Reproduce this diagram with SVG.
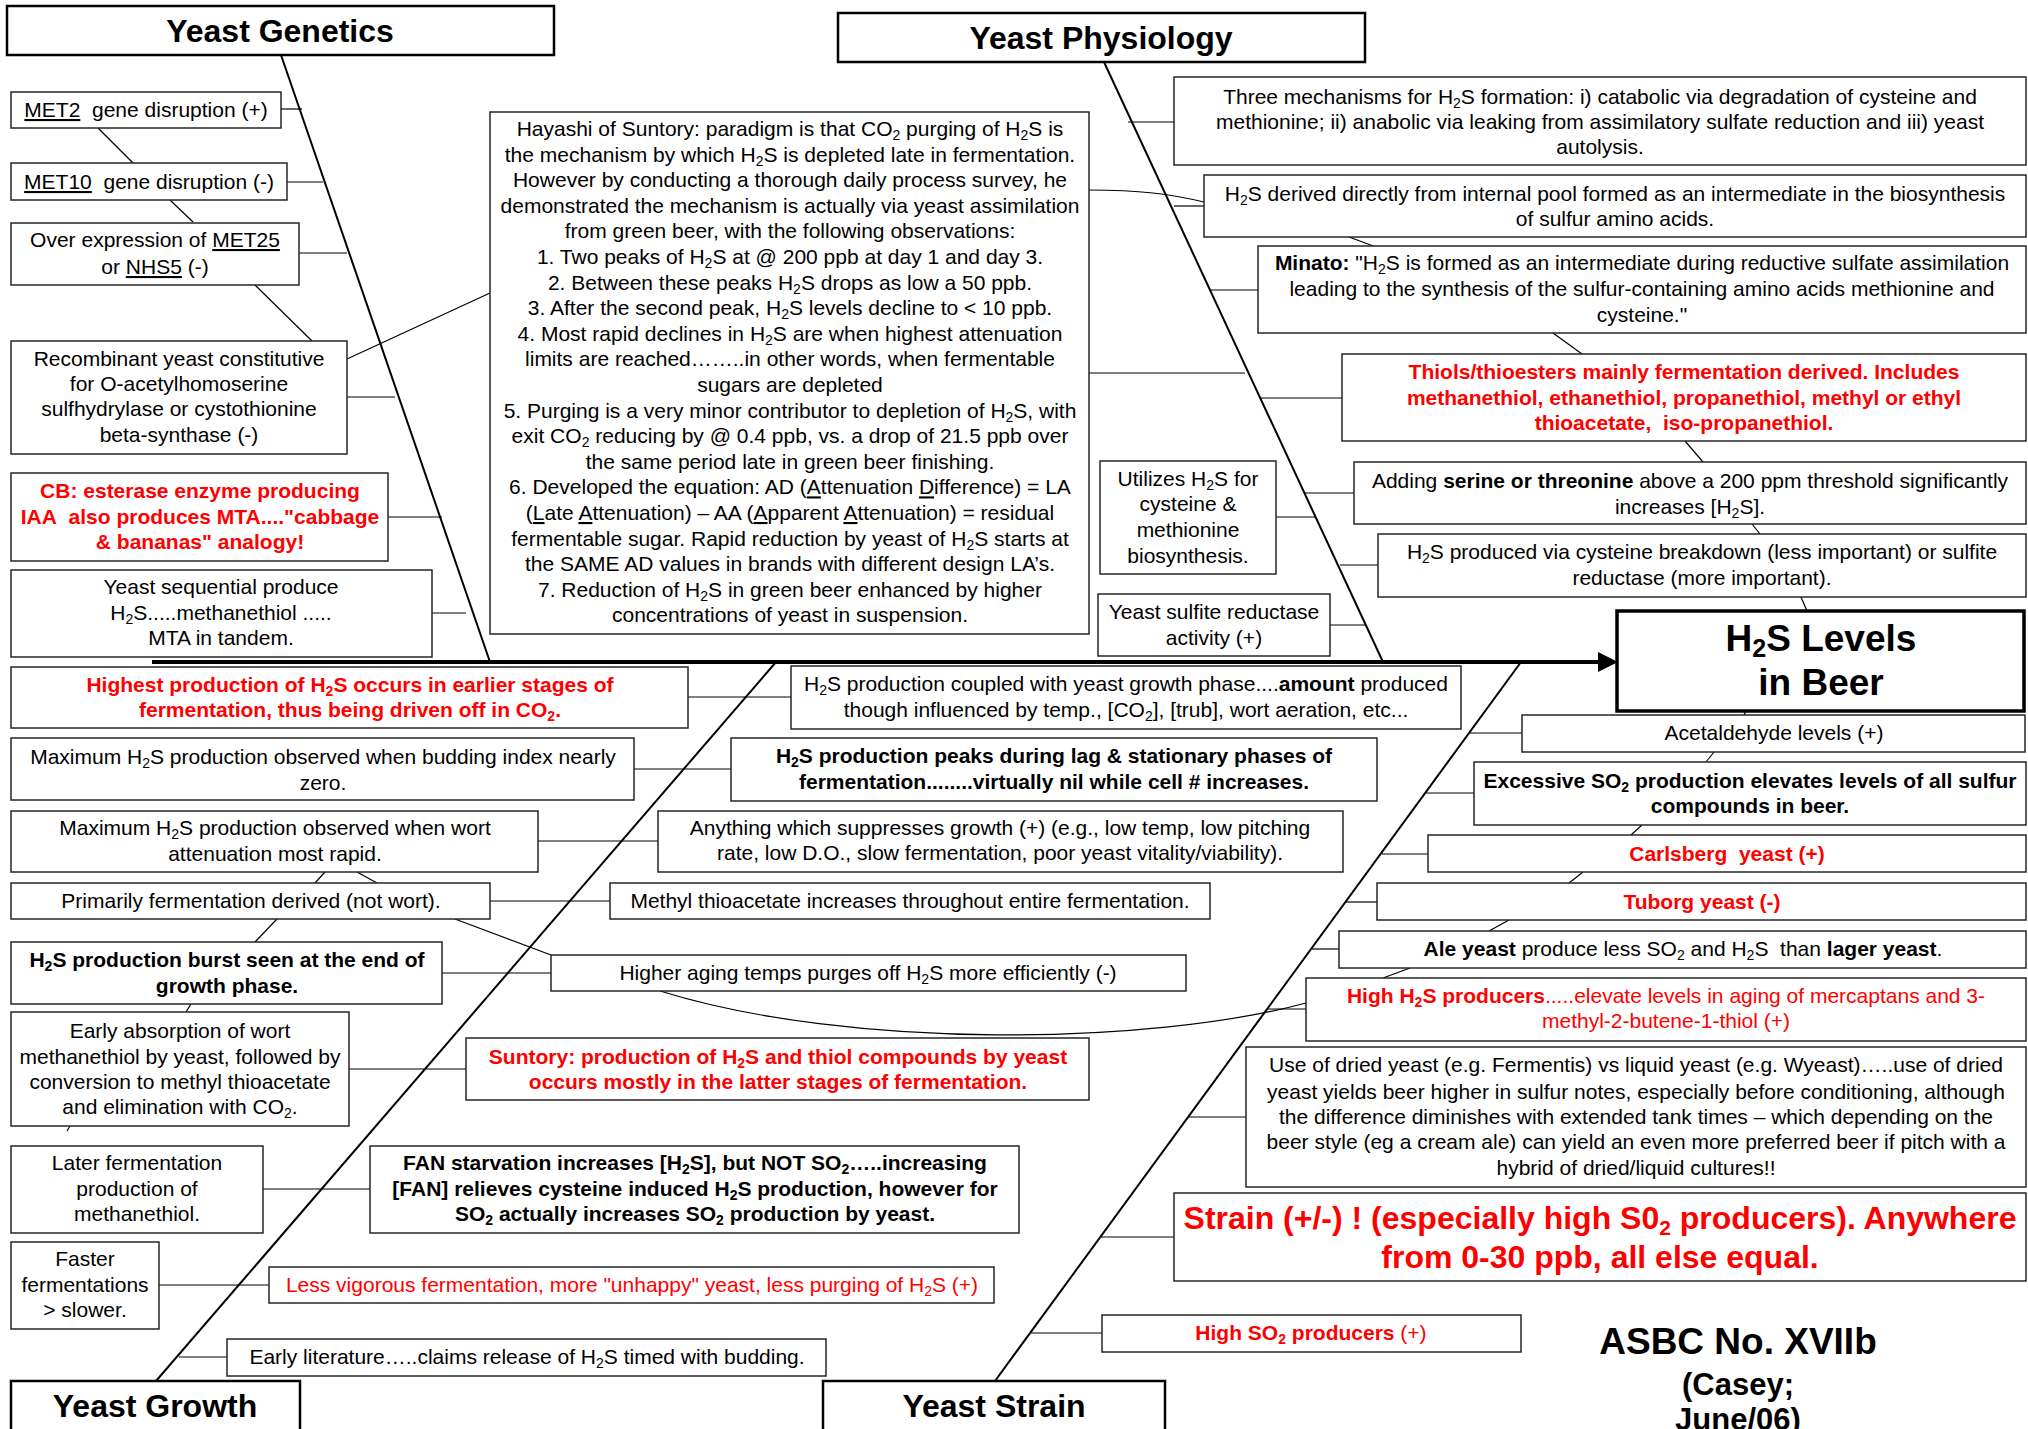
<svg xmlns="http://www.w3.org/2000/svg" width="2028" height="1429" viewBox="0 0 2028 1429">
<style>
.bx{fill:#fff;stroke:#262626;stroke-width:1.5}
.tb{fill:#fff;stroke:#000;stroke-width:2.5}
.t{font-family:"Liberation Sans",Arial,sans-serif;font-size:21px;text-anchor:middle;fill:#000}
.bd{font-weight:bold}
.r{fill:#f00}
.h{font-size:32px;font-weight:bold}
.s{font-size:14px;baseline-shift:-4px}
.u{text-decoration:underline}
.c{stroke:#000;stroke-width:1.2;fill:none}
.bone{stroke:#000;stroke-width:2;fill:none}
</style>
<rect width="2028" height="1429" fill="#fff"/>
<g id="connectors">
<line class="bone" x1="281" y1="55" x2="490" y2="662"/>
<line class="bone" x1="1104" y1="62" x2="1383" y2="662"/>
<line class="bone" x1="776" y1="662" x2="156" y2="1381"/>
<line class="bone" x1="1521" y1="662" x2="995" y2="1381"/>
<line x1="152" y1="662" x2="1602" y2="662" stroke="#000" stroke-width="4"/>
<polygon points="1598,652 1618,662 1598,672" fill="#000"/>
<line class="c" x1="281" y1="109" x2="302" y2="109"/>
<line class="c" x1="287" y1="182" x2="323" y2="182"/>
<line class="c" x1="299" y1="253" x2="347" y2="253"/>
<line class="c" x1="347" y1="397" x2="395" y2="397"/>
<line class="c" x1="98" y1="128" x2="133" y2="163"/>
<line class="c" x1="170" y1="200" x2="193" y2="222"/>
<line class="c" x1="255" y1="285" x2="312" y2="341"/>
<line class="c" x1="347" y1="359" x2="490" y2="293"/>
<line class="c" x1="388" y1="517" x2="442" y2="517"/>
<line class="c" x1="432" y1="613" x2="466" y2="613"/>
<line class="c" x1="1128" y1="122" x2="1174" y2="122"/>
<path class="c" d="M1089,190 C1140,190 1170,194 1204,202"/>
<line class="c" x1="1174" y1="206" x2="1204" y2="206"/>
<line class="c" x1="1349" y1="237" x2="1376" y2="247"/>
<line class="c" x1="1210" y1="290" x2="1258" y2="290"/>
<line class="c" x1="1553" y1="333" x2="1582" y2="354"/>
<line class="c" x1="1089" y1="373" x2="1245" y2="373"/>
<line class="c" x1="1260" y1="398" x2="1342" y2="398"/>
<line class="c" x1="1685" y1="441" x2="1703" y2="462"/>
<line class="c" x1="1305" y1="493" x2="1354" y2="493"/>
<line class="c" x1="1276" y1="517" x2="1315" y2="517"/>
<line class="c" x1="1752" y1="524" x2="1760" y2="534"/>
<line class="c" x1="1340" y1="565" x2="1378" y2="565"/>
<line class="c" x1="1801" y1="597" x2="1807" y2="611"/>
<line class="c" x1="1330" y1="625" x2="1366" y2="625"/>
<line class="c" x1="688" y1="697" x2="791" y2="697"/>
<line class="c" x1="634" y1="769" x2="731" y2="769"/>
<line class="c" x1="538" y1="841" x2="658" y2="841"/>
<line class="c" x1="490" y1="901" x2="610" y2="901"/>
<line class="c" x1="325" y1="872" x2="315" y2="883"/>
<line class="c" x1="357" y1="872" x2="377" y2="883"/>
<line class="c" x1="277" y1="919" x2="255" y2="942"/>
<line class="c" x1="455" y1="919" x2="551" y2="955"/>
<line class="c" x1="442" y1="973" x2="551" y2="973"/>
<line class="c" x1="191" y1="1004" x2="186" y2="1012"/>
<line class="c" x1="349" y1="1069" x2="466" y2="1069"/>
<line class="c" x1="70" y1="1126" x2="67" y2="1131"/>
<line class="c" x1="263" y1="1189" x2="370" y2="1189"/>
<line class="c" x1="159" y1="1285" x2="269" y2="1285"/>
<line class="c" x1="179" y1="1357" x2="227" y2="1357"/>
<path class="c" d="M660,991 C850,1050 1150,1045 1306,1003"/>
<line class="c" x1="1746" y1="711" x2="1744" y2="715"/>
<line class="c" x1="1470" y1="733" x2="1522" y2="733"/>
<line class="c" x1="1714" y1="752" x2="1706" y2="762"/>
<line class="c" x1="1426" y1="793" x2="1474" y2="793"/>
<line class="c" x1="1642" y1="825" x2="1631" y2="835"/>
<line class="c" x1="1382" y1="854" x2="1428" y2="854"/>
<line class="c" x1="1583" y1="872" x2="1569" y2="883"/>
<line class="c" x1="1345" y1="902" x2="1377" y2="902"/>
<line class="c" x1="1509" y1="920" x2="1489" y2="931"/>
<line class="c" x1="1312" y1="949" x2="1339" y2="949"/>
<line class="c" x1="1410" y1="968" x2="1383" y2="978"/>
<line class="c" x1="1267" y1="1009" x2="1306" y2="1009"/>
<line class="c" x1="1188" y1="1117" x2="1246" y2="1117"/>
<line class="c" x1="1101" y1="1237" x2="1174" y2="1237"/>
<line class="c" x1="1031" y1="1333" x2="1102" y2="1333"/>
</g>
<g id="yeast-genetics"><rect class="tb" x="7" y="6" width="547" height="49"/><text class="t h" x="280" y="42">Yeast Genetics</text></g>
<g id="yeast-physiology"><rect class="tb" x="838" y="13" width="527" height="49"/><text class="t h" x="1101" y="49">Yeast Physiology</text></g>
<g id="yeast-growth"><rect class="tb" x="11" y="1381" width="289" height="70"/><text class="t h" x="155" y="1417">Yeast Growth</text></g>
<g id="yeast-strain"><rect class="tb" x="823" y="1381" width="342" height="70"/><text class="t h" x="994" y="1417">Yeast Strain</text></g>
<g id="h2s-levels"><rect x="1617" y="611" width="407" height="100" fill="#fff" stroke="#000" stroke-width="3.5"/><text class="t bd" style="font-size:37px" x="1821" y="651">H<tspan style="font-size:25px;baseline-shift:-6px">2</tspan>S Levels</text><text class="t bd" style="font-size:37px" x="1821" y="695">in Beer</text></g>

<g id="met2"><rect class="bx" x="11" y="92" width="270" height="36"/><text class="t" x="146" y="117"><tspan class="u">MET2</tspan>&#160; gene disruption (+)</text></g>
<g id="met10"><rect class="bx" x="11" y="163" width="276" height="37"/><text class="t" x="149" y="189"><tspan class="u">MET10</tspan>&#160; gene disruption (-)</text></g>
<g id="met25"><rect class="bx" x="11" y="223" width="288" height="62"/><text class="t" x="155" y="247">Over expression of <tspan class="u">MET25</tspan></text><text class="t" x="155" y="274">or <tspan class="u">NHS5</tspan> (-)</text></g>
<g id="recombinant"><rect class="bx" x="11" y="341" width="336" height="113"/><text class="t" x="179" y="366">Recombinant yeast constitutive</text><text class="t" x="179" y="391">for O-acetylhomoserine</text><text class="t" x="179" y="416">sulfhydrylase or cystothionine</text><text class="t" x="179" y="442">beta-synthase (-)</text></g>
<g id="cb"><rect class="bx" x="11" y="473" width="377" height="88"/><text class="t bd r" x="200" y="498">CB: esterase enzyme producing</text><text class="t bd r" x="200" y="524">IAA&#160; also produces MTA...."cabbage</text><text class="t bd r" x="200" y="549">&amp; bananas" analogy!</text></g>
<g id="sequential"><rect class="bx" x="11" y="570" width="421" height="87"/><text class="t" x="221" y="594">Yeast sequential produce</text><text class="t" x="221" y="620">H<tspan class="s">2</tspan>S.....methanethiol .....</text><text class="t" x="221" y="645">MTA in tandem.</text></g>

<g id="hayashi"><rect class="bx" x="490" y="112" width="599" height="522"/>
<text class="t" x="790" y="136">Hayashi of Suntory: paradigm is that CO<tspan class="s">2</tspan> purging of H<tspan class="s">2</tspan>S is</text>
<text class="t" x="790" y="161.6">the mechanism by which H<tspan class="s">2</tspan>S is depleted late in fermentation.</text>
<text class="t" x="790" y="187.2">However by conducting a thorough daily process survey, he</text>
<text class="t" x="790" y="212.8">demonstrated the mechanism is actually via yeast assimilation</text>
<text class="t" x="790" y="238.4">from green beer, with the following observations:</text>
<text class="t" x="790" y="264">1. Two peaks of H<tspan class="s">2</tspan>S at @ 200 ppb at day 1 and day 3.</text>
<text class="t" x="790" y="289.6">2. Between these peaks H<tspan class="s">2</tspan>S drops as low a 50 ppb.</text>
<text class="t" x="790" y="315.2">3. After the second peak, H<tspan class="s">2</tspan>S levels decline to &lt; 10 ppb.</text>
<text class="t" x="790" y="340.8">4. Most rapid declines in H<tspan class="s">2</tspan>S are when highest attenuation</text>
<text class="t" x="790" y="366.4">limits are reached……..in other words, when fermentable</text>
<text class="t" x="790" y="392">sugars are depleted</text>
<text class="t" x="790" y="417.6">5. Purging is a very minor contributor to depletion of H<tspan class="s">2</tspan>S, with</text>
<text class="t" x="790" y="443.2">exit CO<tspan class="s">2</tspan> reducing by @ 0.4 ppb, vs. a drop of 21.5 ppb over</text>
<text class="t" x="790" y="468.8">the same period late in green beer finishing.</text>
<text class="t" x="790" y="494.4">6. Developed the equation: AD (<tspan class="u">A</tspan>ttenuation <tspan class="u">D</tspan>ifference) = LA</text>
<text class="t" x="790" y="520">(<tspan class="u">L</tspan>ate <tspan class="u">A</tspan>ttenuation) – AA (<tspan class="u">A</tspan>pparent <tspan class="u">A</tspan>ttenuation) = residual</text>
<text class="t" x="790" y="545.6">fermentable sugar. Rapid reduction by yeast of H<tspan class="s">2</tspan>S starts at</text>
<text class="t" x="790" y="571.2">the SAME AD values in brands with different design LA’s.</text>
<text class="t" x="790" y="596.8">7. Reduction of H<tspan class="s">2</tspan>S in green beer enhanced by higher</text>
<text class="t" x="790" y="622.4">concentrations of yeast in suspension.</text>
</g>

<g id="three-mechanisms"><rect class="bx" x="1174" y="77" width="852" height="88"/><text class="t" x="1600" y="104">Three mechanisms for H<tspan class="s">2</tspan>S formation: i) catabolic via degradation of cysteine and</text><text class="t" x="1600" y="129">methionine; ii) anabolic via leaking from assimilatory sulfate reduction and iii) yeast</text><text class="t" x="1600" y="154">autolysis.</text></g>
<g id="internal-pool"><rect class="bx" x="1204" y="175" width="822" height="62"/><text class="t" x="1615" y="201">H<tspan class="s">2</tspan>S derived directly from internal pool formed as an intermediate in the biosynthesis</text><text class="t" x="1615" y="226">of sulfur amino acids.</text></g>
<g id="minato"><rect class="bx" x="1258" y="246" width="768" height="87"/><text class="t" x="1642" y="270"><tspan class="bd">Minato:</tspan> "H<tspan class="s">2</tspan>S is formed as an intermediate during reductive sulfate assimilation</text><text class="t" x="1642" y="296">leading to the synthesis of the sulfur-containing amino acids methionine and</text><text class="t" x="1642" y="322">cysteine."</text></g>
<g id="thiols"><rect class="bx" x="1342" y="354" width="684" height="87"/><text class="t bd r" x="1684" y="379">Thiols/thioesters mainly fermentation derived. Includes</text><text class="t bd r" x="1684" y="405">methanethiol, ethanethiol, propanethiol, methyl or ethyl</text><text class="t bd r" x="1684" y="430">thioacetate,&#160; iso-propanethiol.</text></g>
<g id="serine"><rect class="bx" x="1354" y="462" width="672" height="62"/><text class="t" x="1690" y="488">Adding <tspan class="bd">serine or threonine</tspan> above a 200 ppm threshold significantly</text><text class="t" x="1690" y="514">increases [H<tspan class="s">2</tspan>S].</text></g>
<g id="utilizes"><rect class="bx" x="1100" y="461" width="176" height="113"/><text class="t" x="1188" y="486">Utilizes H<tspan class="s">2</tspan>S for</text><text class="t" x="1188" y="511">cysteine &amp;</text><text class="t" x="1188" y="537">methionine</text><text class="t" x="1188" y="563">biosynthesis.</text></g>
<g id="cysteine-breakdown"><rect class="bx" x="1378" y="534" width="648" height="63"/><text class="t" x="1702" y="559">H<tspan class="s">2</tspan>S produced via cysteine breakdown (less important) or sulfite</text><text class="t" x="1702" y="585">reductase (more important).</text></g>
<g id="sulfite-reductase"><rect class="bx" x="1098" y="594" width="232" height="62"/><text class="t" x="1214" y="619">Yeast sulfite reductase</text><text class="t" x="1214" y="645">activity (+)</text></g>

<g id="highest"><rect class="bx" x="11" y="667" width="677" height="61"/><text class="t bd r" x="350" y="692">Highest production of H<tspan class="s">2</tspan>S occurs in earlier stages of</text><text class="t bd r" x="350" y="717">fermentation, thus being driven off in CO<tspan class="s">2</tspan>.</text></g>
<g id="coupled"><rect class="bx" x="791" y="666" width="670" height="63"/><text class="t" x="1126" y="691">H<tspan class="s">2</tspan>S production coupled with yeast growth phase....<tspan class="bd">amount</tspan> produced</text><text class="t" x="1126" y="717">though influenced by temp., [CO<tspan class="s">2</tspan>], [trub], wort aeration, etc...</text></g>
<g id="budding"><rect class="bx" x="11" y="738" width="623" height="62"/><text class="t" x="323" y="764">Maximum H<tspan class="s">2</tspan>S production observed when budding index nearly</text><text class="t" x="323" y="790">zero.</text></g>
<g id="peaks"><rect class="bx" x="731" y="738" width="646" height="63"/><text class="t bd" x="1054" y="763">H<tspan class="s">2</tspan>S production peaks during lag &amp; stationary phases of</text><text class="t bd" x="1054" y="789">fermentation........virtually nil while cell # increases.</text></g>
<g id="wort-attenuation"><rect class="bx" x="11" y="811" width="527" height="61"/><text class="t" x="275" y="835">Maximum H<tspan class="s">2</tspan>S production observed when wort</text><text class="t" x="275" y="861">attenuation most rapid.</text></g>
<g id="suppresses"><rect class="bx" x="658" y="811" width="685" height="61"/><text class="t" x="1000" y="835">Anything which suppresses growth (+) (e.g., low temp, low pitching</text><text class="t" x="1000" y="860">rate, low D.O., slow fermentation, poor yeast vitality/viability).</text></g>
<g id="primarily"><rect class="bx" x="11" y="883" width="479" height="36"/><text class="t" x="251" y="908">Primarily fermentation derived (not wort).</text></g>
<g id="methyl-thioacetate"><rect class="bx" x="610" y="883" width="600" height="36"/><text class="t" x="910" y="908">Methyl thioacetate increases throughout entire fermentation.</text></g>
<g id="burst"><rect class="bx" x="11" y="942" width="431" height="62"/><text class="t bd" x="227" y="967">H<tspan class="s">2</tspan>S production burst seen at the end of</text><text class="t bd" x="227" y="993">growth phase.</text></g>
<g id="aging-temps"><rect class="bx" x="551" y="955" width="635" height="36"/><text class="t" x="868" y="980">Higher aging temps purges off H<tspan class="s">2</tspan>S more efficiently (-)</text></g>
<g id="early-absorption"><rect class="bx" x="11" y="1012" width="338" height="114"/><text class="t" x="180" y="1038">Early absorption of wort</text><text class="t" x="180" y="1064">methanethiol by yeast, followed by</text><text class="t" x="180" y="1089">conversion to methyl thioacetate</text><text class="t" x="180" y="1114">and elimination with CO<tspan class="s">2</tspan>.</text></g>
<g id="suntory"><rect class="bx" x="466" y="1038" width="623" height="62"/><text class="t bd r" x="778" y="1064">Suntory: production of H<tspan class="s">2</tspan>S and thiol compounds by yeast</text><text class="t bd r" x="778" y="1089">occurs mostly in the latter stages of fermentation.</text></g>
<g id="later-fermentation"><rect class="bx" x="11" y="1146" width="252" height="87"/><text class="t" x="137" y="1170">Later fermentation</text><text class="t" x="137" y="1196">production of</text><text class="t" x="137" y="1221">methanethiol.</text></g>
<g id="fan"><rect class="bx" x="370" y="1146" width="649" height="87"/><text class="t bd" x="695" y="1170">FAN starvation increases [H<tspan class="s">2</tspan>S], but NOT SO<tspan class="s">2</tspan>…..increasing</text><text class="t bd" x="695" y="1196">[FAN] relieves cysteine induced H<tspan class="s">2</tspan>S production, however for</text><text class="t bd" x="695" y="1221">SO<tspan class="s">2</tspan> actually increases SO<tspan class="s">2</tspan> production by yeast.</text></g>
<g id="faster"><rect class="bx" x="11" y="1242" width="148" height="87"/><text class="t" x="85" y="1266">Faster</text><text class="t" x="85" y="1292">fermentations</text><text class="t" x="85" y="1317">&gt; slower.</text></g>
<g id="less-vigorous"><rect class="bx" x="269" y="1267" width="725" height="36"/><text class="t r" x="632" y="1292">Less vigorous fermentation, more "unhappy" yeast, less purging of H<tspan class="s">2</tspan>S (+)</text></g>
<g id="early-literature"><rect class="bx" x="227" y="1339" width="599" height="37"/><text class="t" x="527" y="1364">Early literature…..claims release of H<tspan class="s">2</tspan>S timed with budding.</text></g>

<g id="acetaldehyde"><rect class="bx" x="1522" y="715" width="503" height="37"/><text class="t" x="1774" y="740">Acetaldehyde levels (+)</text></g>
<g id="excessive-so2"><rect class="bx" x="1474" y="762" width="552" height="63"/><text class="t bd" x="1750" y="788">Excessive SO<tspan class="s">2</tspan> production elevates levels of all sulfur</text><text class="t bd" x="1750" y="813">compounds in beer.</text></g>
<g id="carlsberg"><rect class="bx" x="1428" y="835" width="598" height="37"/><text class="t bd r" x="1727" y="861">Carlsberg&#160; yeast (+)</text></g>
<g id="tuborg"><rect class="bx" x="1377" y="883" width="649" height="37"/><text class="t bd r" x="1702" y="909">Tuborg yeast (-)</text></g>
<g id="ale-yeast"><rect class="bx" x="1339" y="931" width="687" height="37"/><text class="t" x="1683" y="956"><tspan class="bd">Ale yeast</tspan> produce less SO<tspan class="s">2</tspan> and H<tspan class="s">2</tspan>S&#160; than <tspan class="bd">lager yeast</tspan>.</text></g>
<g id="high-h2s"><rect class="bx" x="1306" y="978" width="720" height="63"/><text class="t r" x="1666" y="1003"><tspan class="bd">High H<tspan class="s">2</tspan>S producers</tspan>.....elevate levels in aging of mercaptans and 3-</text><text class="t r" x="1666" y="1028">methyl-2-butene-1-thiol (+)</text></g>
<g id="dried-yeast"><rect class="bx" x="1246" y="1047" width="780" height="140"/><text class="t" x="1636" y="1072">Use of dried yeast (e.g. Fermentis) vs liquid yeast (e.g. Wyeast)…..use of dried</text><text class="t" x="1636" y="1099">yeast yields beer higher in sulfur notes, especially before conditioning, although</text><text class="t" x="1636" y="1124">the difference diminishes with extended tank times – which depending on the</text><text class="t" x="1636" y="1149">beer style (eg a cream ale) can yield an even more preferred beer if pitch with a</text><text class="t" x="1636" y="1175">hybrid of dried/liquid cultures!!</text></g>
<g id="strain"><rect class="bx" x="1174" y="1193" width="852" height="88"/><text class="t bd r" style="font-size:32px" x="1600" y="1229">Strain (+/-) ! (especially high S0<tspan style="font-size:21px;baseline-shift:-6px">2</tspan> producers). Anywhere</text><text class="t bd r" style="font-size:32px" x="1600" y="1268">from 0-30 ppb, all else equal.</text></g>
<g id="high-so2"><rect class="bx" x="1102" y="1315" width="419" height="37"/><text class="t r" x="1311" y="1340"><tspan class="bd">High SO<tspan class="s">2</tspan> producers</tspan> (+)</text></g>
<g id="caption"><text class="t bd" style="font-size:37px" x="1738" y="1354">ASBC No. XVIIb</text><text class="t bd" style="font-size:31px" x="1738" y="1395">(Casey;</text><text class="t bd" style="font-size:31px" x="1738" y="1430">June/06)</text></g>
</svg>
